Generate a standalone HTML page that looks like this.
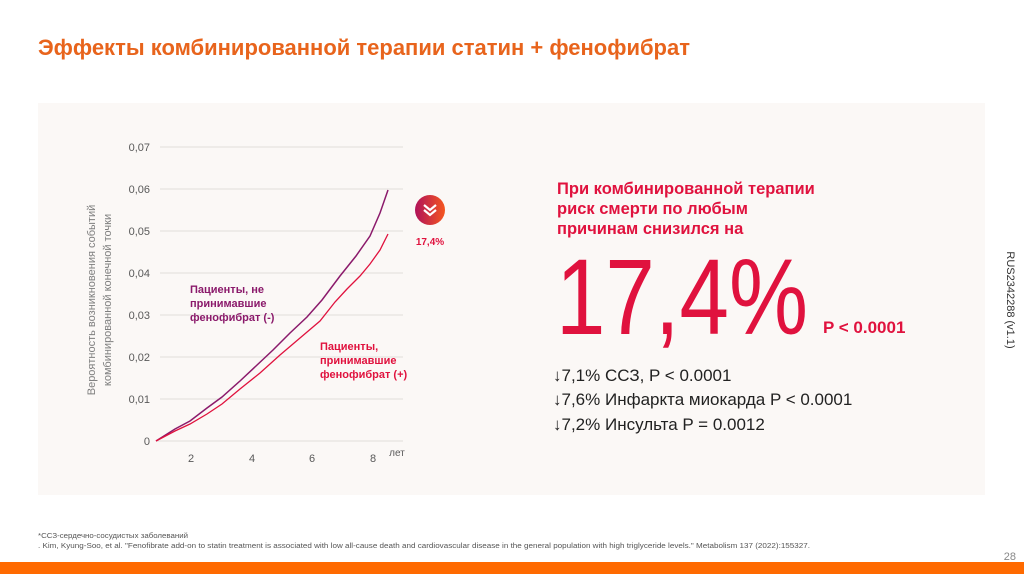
<!DOCTYPE html>
<html><head><meta charset="utf-8"><style>
html,body{margin:0;padding:0;background:#fff;}
svg{display:block;font-family:"Liberation Sans","DejaVu Sans",sans-serif;}
</style></head><body>
<svg width="1024" height="574" viewBox="0 0 1024 574" xmlns="http://www.w3.org/2000/svg">
<rect width="1024" height="574" fill="#fff"/>
<text x="38" y="55" font-size="22" font-weight="bold" fill="#E8641C" textLength="652" lengthAdjust="spacingAndGlyphs">Эффекты комбинированной терапии статин + фенофибрат</text>
<rect x="38" y="103" width="947" height="392" fill="#FBF8F6"/>
<g stroke="#E2DEDB" stroke-width="1">
<line x1="160" y1="147" x2="403" y2="147"/><line x1="160" y1="189" x2="403" y2="189"/>
<line x1="160" y1="231" x2="403" y2="231"/><line x1="160" y1="273" x2="403" y2="273"/>
<line x1="160" y1="315" x2="403" y2="315"/><line x1="160" y1="357" x2="403" y2="357"/>
<line x1="160" y1="399" x2="403" y2="399"/><line x1="156" y1="441" x2="403" y2="441"/>
</g>
<g font-size="11" fill="#595959" text-anchor="end">
<text x="150" y="151">0,07</text><text x="150" y="193">0,06</text><text x="150" y="235">0,05</text>
<text x="150" y="277">0,04</text><text x="150" y="319">0,03</text><text x="150" y="361">0,02</text>
<text x="150" y="403">0,01</text><text x="150" y="445">0</text>
</g>
<g font-size="11" fill="#595959" text-anchor="middle">
<text x="191" y="462">2</text><text x="252" y="462">4</text><text x="312" y="462">6</text><text x="373" y="462">8</text>
</g>
<text x="397" y="456" font-size="10" fill="#595959" text-anchor="middle">лет</text>
<g font-size="11" fill="#7F7F7F" text-anchor="middle">
<text transform="translate(95,300) rotate(-90)">Вероятность возникновения событий</text>
<text transform="translate(111,300) rotate(-90)">комбинированной конечной точки</text>
</g>
<polyline fill="none" stroke="#8B1A6B" stroke-width="1.5" points="156,441 175,429 190,421 207,408 222,397 240,381 256,366 273,350 290,333 307,317 322,300 340,276 356,256 370,236 380,213 388,190"/>
<polyline fill="none" stroke="#E0123E" stroke-width="1.3" points="156,441 175,431 190,424 207,414 222,404 240,389 260,373 280,355 300,338 320,321 335,302 347,289 360,276 370,264 380,250 388,234"/>
<g font-size="11" font-weight="bold">
<text x="190" y="293" fill="#8B1A6B">Пациенты, не</text>
<text x="190" y="307" fill="#8B1A6B">принимавшие</text>
<text x="190" y="321" fill="#8B1A6B">фенофибрат (-)</text>
<text x="320" y="350" fill="#E0123E">Пациенты,</text>
<text x="320" y="364" fill="#E0123E">принимавшие</text>
<text x="320" y="378" fill="#E0123E">фенофибрат (+)</text>
</g>
<defs><linearGradient id="g" x1="0" y1="0" x2="1" y2="0"><stop offset="0" stop-color="#B0125A"/><stop offset="1" stop-color="#F5561F"/></linearGradient></defs>
<circle cx="430" cy="210" r="15" fill="url(#g)"/>
<path d="M424,205 L430,210 L436,205 M424,210 L430,215 L436,210" fill="none" stroke="#fff" stroke-width="2.2"/>
<text x="430" y="245" font-size="10" font-weight="bold" fill="#E0123E" text-anchor="middle">17,4%</text>
<g font-size="16.5" font-weight="bold" fill="#E0123E">
<text x="557" y="194">При комбинированной терапии</text>
<text x="557" y="214">риск смерти по любым</text>
<text x="557" y="234">причинам снизился на</text>
</g>
<text x="556" y="334" font-size="108" fill="#E0123E" textLength="252" lengthAdjust="spacingAndGlyphs">17,4%</text>
<text x="823" y="333" font-size="17" font-weight="bold" fill="#E0123E">P &lt; 0.0001</text>
<g font-size="17" fill="#222">
<text x="553" y="381">↓7,1% ССЗ, P &lt; 0.0001</text>
<text x="553" y="405">↓7,6% Инфаркта миокарда P &lt; 0.0001</text>
<text x="553" y="430">↓7,2% Инсульта P = 0.0012</text>
</g>
<text transform="translate(1007,300) rotate(90)" font-size="11" fill="#333" text-anchor="middle">RUS2342288 (v1.1)</text>
<text x="38" y="538" font-size="7" fill="#555" textLength="150" lengthAdjust="spacingAndGlyphs">*ССЗ-сердечно-сосудистых заболеваний</text>
<text x="38" y="548" font-size="7" fill="#555" textLength="772" lengthAdjust="spacingAndGlyphs">. Kim, Kyung-Soo, et al. "Fenofibrate add-on to statin treatment is associated with low all-cause death and cardiovascular disease in the general population with high triglyceride levels." Metabolism 137 (2022):155327.</text>
<text x="1016" y="560" font-size="11" fill="#888" text-anchor="end">28</text>
<rect x="0" y="562" width="1024" height="12" fill="#FF6A00"/>
</svg>
</body></html>
